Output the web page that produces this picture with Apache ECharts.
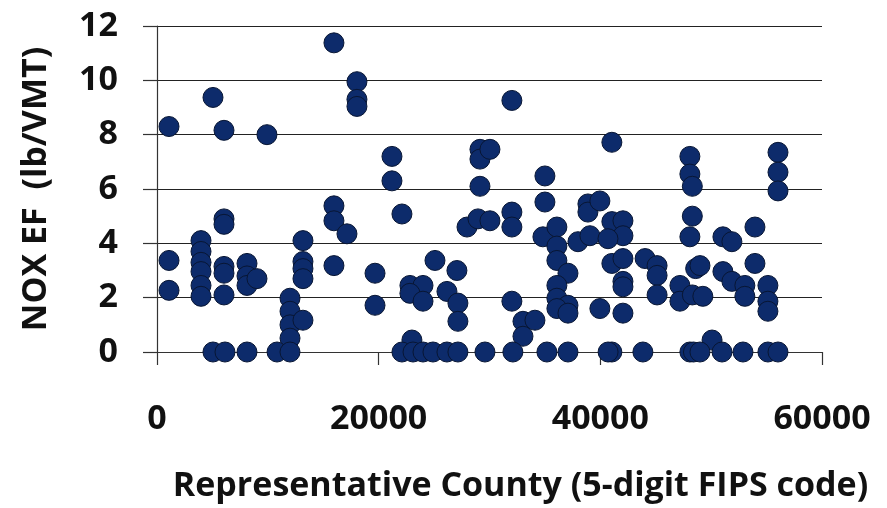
<!DOCTYPE html>
<html>
<head>
<meta charset="utf-8">
<script src="https://cdn.jsdelivr.net/npm/echarts@6/dist/echarts.min.js"></script>
<style>
  html, body { margin: 0; padding: 0; background: #fff; }
  #main { width: 887px; height: 508px; }
</style>
</head>
<body>
<div id="main"></div>
<script>
// county FIPS code (x) and NOx emission factor (y)
var fipsCodes = [
  1083, 1083, 1083, 3970, 3970, 3970, 3970, 3970, 3970, 5052,
  6045, 6045, 6045, 6045, 6045, 6045, 8120, 8120, 8120, 9020,
  9920, 5050, 6134, 8120, 15965, 18040, 18040, 18040, 15965, 15965,
  17140, 15965, 13170, 13170, 13170, 13170, 19670, 19670, 12000, 12000,
  12000, 13170, 12000, 10830, 12000, 21200, 21200, 22100, 29140, 29140,
  29140, 27970, 28960, 22820, 24000, 22820, 24000, 25080, 26160, 27060,
  27150, 27150, 23000, 22100, 23100, 24000, 24900, 26160, 27150, 29590,
  32020, 30040, 30040, 32020, 32020, 35000, 35000, 38880, 38880, 34820,
  36080, 36080, 36080, 37080, 36080, 36080, 37080, 36080, 37080, 37980,
  39060, 32020, 33020, 34100, 33020, 32110, 35180, 37080, 41040, 48080,
  48080, 48300, 48300, 48080, 39960, 41040, 42040, 42040, 40690, 41040,
  42040, 42040, 42040, 44040, 45120, 45120, 45120, 47180, 47180, 48300,
  48600, 39960, 42040, 41040, 40700, 43840, 48080, 48400, 56030, 56030,
  56030, 53950, 51060, 51870, 53950, 48990, 51060, 51870, 53040, 53040,
  55120, 55120, 55120, 49250, 50080, 48990, 50980, 52870, 55120, 56030
];
var noxEF = [
  8.3, 3.37, 2.27, 4.1, 3.7, 3.3, 2.96, 2.45, 2.05, 9.37,
  8.16, 4.9, 4.7, 3.15, 2.9, 2.1, 3.26, 2.8, 2.45, 2.7,
  8.0, 0, 0, 0, 11.38, 9.95, 9.3, 9.04, 5.38, 4.83,
  4.35, 3.18, 4.1, 3.33, 3.07, 2.7, 2.9, 1.72, 1.98, 1.5,
  1.0, 1.17, 0.51, 0, 0, 7.2, 6.3, 5.08, 7.46, 7.1,
  6.1, 4.6, 4.9, 2.45, 2.45, 2.16, 1.87, 3.37, 2.23, 3.0,
  1.8, 1.13, 0.44, 0, 0, 0, 0, 0, 0, 0,
  9.26, 7.46, 4.83, 5.15, 4.6, 6.48, 5.52, 5.45, 5.15, 4.24,
  4.6, 3.9, 3.37, 2.9, 2.45, 1.98, 1.72, 1.6, 1.43, 4.06,
  4.28, 1.87, 1.13, 1.17, 0.58, 0, 0, 0, 7.72, 7.2,
  6.55, 6.1, 5.0, 4.24, 5.56, 4.8, 4.83, 4.28, 4.17, 3.26,
  3.44, 2.6, 2.4, 3.44, 3.18, 2.82, 2.1, 2.45, 1.87, 2.1,
  3.07, 1.6, 1.43, 0, 0, 0, 0, 0, 7.35, 6.62,
  5.93, 4.6, 4.24, 4.06, 3.26, 3.18, 2.96, 2.6, 2.45, 2.05,
  2.45, 1.87, 1.5, 2.05, 0.44, 0, 0, 0, 0, 0
];
var xTicks = [0, 20000, 40000, 60000];
var yTicks = [0, 2, 4, 6, 8, 10, 12];

var points = [];
for (var i = 0; i < fipsCodes.length; i++) {
  points.push([fipsCodes[i], noxEF[i]]);
}

var fontFam = "'Open Sans', 'DejaVu Sans', sans-serif";
var chart = echarts.init(document.getElementById('main'));
chart.setOption({
  animation: false,
  backgroundColor: '#fff',
  grid: { left: 157, right: 65, top: 26, bottom: 154 },
  xAxis: {
    type: 'value',
    min: xTicks[0],
    max: xTicks[xTicks.length - 1],
    interval: xTicks[1] - xTicks[0],
    name: 'Representative County (5-digit FIPS code)',
    nameLocation: 'middle',
    nameGap: 117,
    nameTextStyle: {
      fontFamily: fontFam, fontSize: 34, fontWeight: 'bold', color: '#111',
      padding: [0, 0, 0, 62]
    },
    axisLine: { show: true, onZero: false, lineStyle: { color: '#333', width: 1.2 } },
    axisTick: { show: true, inside: false, interval: 0, length: 13, lineStyle: { color: '#333', width: 1.2 } },
    axisLabel: {
      margin: 50, fontFamily: fontFam, fontSize: 34, fontWeight: 'bold', color: '#111',
      formatter: function (v) { return String(v); }
    },
    splitLine: { show: false }
  },
  yAxis: {
    type: 'value',
    min: yTicks[0],
    max: yTicks[yTicks.length - 1],
    interval: yTicks[1] - yTicks[0],
    name: 'NOX EF  (lb/VMT)',
    nameLocation: 'middle',
    nameGap: 104,
    nameRotate: 90,
    nameTextStyle: {
      fontFamily: fontFam, fontSize: 34, fontWeight: 'bold', color: '#111'
    },
    axisLine: { show: true, onZero: false, lineStyle: { color: '#333', width: 1.2 } },
    axisTick: { show: true, inside: false, interval: 0, length: 14, lineStyle: { color: '#333', width: 1.2 } },
    axisLabel: {
      margin: 39, fontFamily: fontFam, fontSize: 34, fontWeight: 'bold', color: '#111'
    },
    splitLine: { show: true, lineStyle: { color: '#222', width: 1.2 } }
  },
  series: [{
    type: 'scatter',
    data: points,
    symbol: 'circle',
    symbolSize: 20,
    itemStyle: { color: '#0d2b6b', borderColor: '#081634', borderWidth: 1, opacity: 1 }
  }]
});
</script>
</body>
</html>
